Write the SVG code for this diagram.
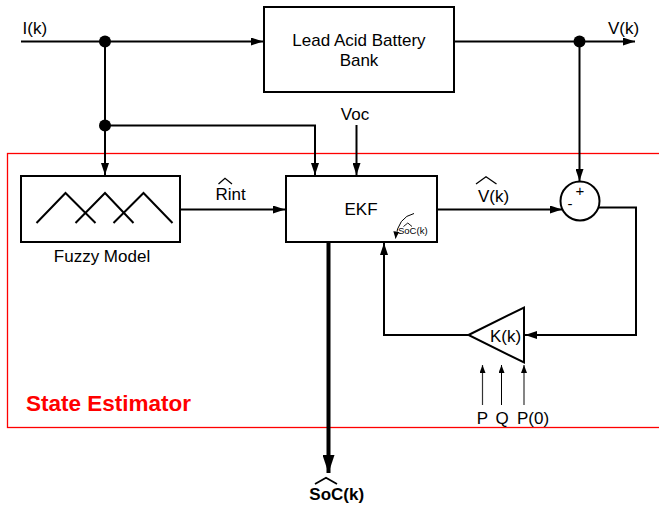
<svg xmlns="http://www.w3.org/2000/svg" width="659" height="509" viewBox="0 0 659 509">
<defs>
<style>
.t{font-family:"Liberation Sans",Arial,sans-serif;font-size:17px;fill:#000}
.b{fill:#fff;stroke:#000;stroke-width:2}
.w{fill:none;stroke:#000;stroke-width:2}
.h{fill:none;stroke:#000;stroke-width:1.3}
</style>
<marker id="ar" markerUnits="userSpaceOnUse" markerWidth="12" markerHeight="8" refX="12" refY="4" orient="auto"><path d="M0,0L12,4L0,8z" fill="#000"/></marker>
<marker id="ab" markerUnits="userSpaceOnUse" markerWidth="18" markerHeight="12" refX="18" refY="6" orient="auto"><path d="M0,0L18,6L0,12z" fill="#000"/></marker>
<marker id="as" markerUnits="userSpaceOnUse" markerWidth="8" markerHeight="6" refX="8" refY="3" orient="auto"><path d="M0,0L8,3L0,6z" fill="#000"/></marker>
<marker id="am" markerUnits="userSpaceOnUse" markerWidth="7" markerHeight="6" refX="7" refY="3" orient="auto"><path d="M0,0L7,3L0,6z" fill="#000"/></marker>
</defs>
<rect width="659" height="509" fill="#fff"/>

<g id="state-estimator">
<rect x="7.5" y="153.5" width="670" height="274" fill="none" stroke="#ff0000" stroke-width="1.3"/>
<text x="26" y="410.5" style="font-family:'Liberation Sans',Arial,sans-serif;font-size:22.5px;font-weight:bold;fill:#ff0000">State Estimator</text>
</g>

<g id="connectors">
<path class="w" d="M21,41.5H263" marker-end="url(#ar)"/>
<path class="w" d="M105,41.5V175" marker-end="url(#ar)"/>
<path class="w" d="M105,125.5H315V175" marker-end="url(#ar)"/>
<path class="w" d="M356.5,125V175" marker-end="url(#ar)"/>
<path class="w" d="M454,41.5H635" marker-end="url(#ar)"/>
<path class="w" d="M579.5,41.5V181" marker-end="url(#ar)"/>
<path class="w" d="M180,209.5H285" marker-end="url(#ar)"/>
<path class="w" d="M437,209.5H562" marker-end="url(#ar)"/>
<path class="w" d="M599,207.5H636V335H525" marker-end="url(#ar)"/>
<path class="w" d="M468,335H384V243" marker-end="url(#ar)"/>
<path fill="none" stroke="#000" stroke-width="4" d="M328.5,242V473" marker-end="url(#ab)"/>
<path fill="none" stroke="#333" stroke-width="1.2" d="M482.5,405V365" marker-end="url(#as)"/>
<path fill="none" stroke="#000" stroke-width="1" d="M501.5,405V365" marker-end="url(#as)"/>
<path fill="none" stroke="#333" stroke-width="1.2" d="M524,405V365" marker-end="url(#as)"/>
<circle cx="105" cy="41.5" r="6" fill="#000"/>
<circle cx="105" cy="125.5" r="6" fill="#000"/>
<circle cx="579.5" cy="41.5" r="6" fill="#000"/>
</g>

<g id="battery">
<rect class="b" x="264" y="7" width="190" height="85"/>
<text class="t" x="359" y="45.5" text-anchor="middle">Lead Acid Battery</text>
<text class="t" x="359" y="65.5" text-anchor="middle">Bank</text>
</g>

<g id="fuzzy-model">
<rect class="b" x="21" y="176" width="159" height="66"/>
<polyline class="w" points="36.5,223 65.5,193 95.5,223"/>
<polyline class="w" points="75.5,223 105,193 133.5,223"/>
<polyline class="w" points="113.5,223 143.5,193 172.5,223"/>
<text class="t" x="102" y="261.5" text-anchor="middle">Fuzzy Model</text>
</g>

<g id="ekf">
<rect class="b" x="286" y="176" width="151" height="66"/>
<text class="t" x="361" y="215" text-anchor="middle">EKF</text>
<path fill="none" stroke="#000" stroke-width="1" d="M414,213.5Q398,217 395.5,238.5" marker-end="url(#am)"/>
<text x="398" y="234" style="font-family:'Liberation Sans',Arial,sans-serif;font-size:9.5px">SoC(k)</text>
<polyline fill="none" stroke="#000" stroke-width="0.9" points="403.5,226.5 407.8,223 412,226.5"/>
</g>

<g id="sum">
<circle cx="580" cy="201" r="19.5" fill="#fff" stroke="#000" stroke-width="2"/>
<text class="t" x="580" y="196" text-anchor="middle" style="font-size:15px">+</text>
<text class="t" x="570" y="209" text-anchor="middle" style="font-size:15px">-</text>
</g>

<g id="gain">
<polygon points="468.5,335 524,307.5 524,362.5" fill="#fff" stroke="#000" stroke-width="2" stroke-linejoin="miter"/>
<text class="t" x="490" y="341.5">K(k)</text>
</g>

<g id="labels">
<text class="t" x="22.5" y="33.5">I(k)</text>
<text class="t" x="608" y="33.5">V(k)</text>
<text class="t" x="355" y="119.5" text-anchor="middle">Voc</text>
<text class="t" x="215.5" y="200">Rint</text>
<polyline class="h" points="218.5,184 225,178.3 232,184"/>
<text class="t" x="478" y="201.5">V(k)</text>
<polyline class="h" points="476,184 486,176.8 496.5,184"/>
<text class="t" x="482.5" y="423.5" text-anchor="middle">P</text>
<text class="t" x="502" y="423.5" text-anchor="middle">Q</text>
<text class="t" x="517" y="423.5">P(0)</text>
<text class="t" x="336.7" y="500" text-anchor="middle" style="font-weight:bold">SoC(k)</text>
<polyline fill="none" stroke="#000" stroke-width="1.8" points="315,484 326,477.7 337,484"/>
</g>
</svg>
